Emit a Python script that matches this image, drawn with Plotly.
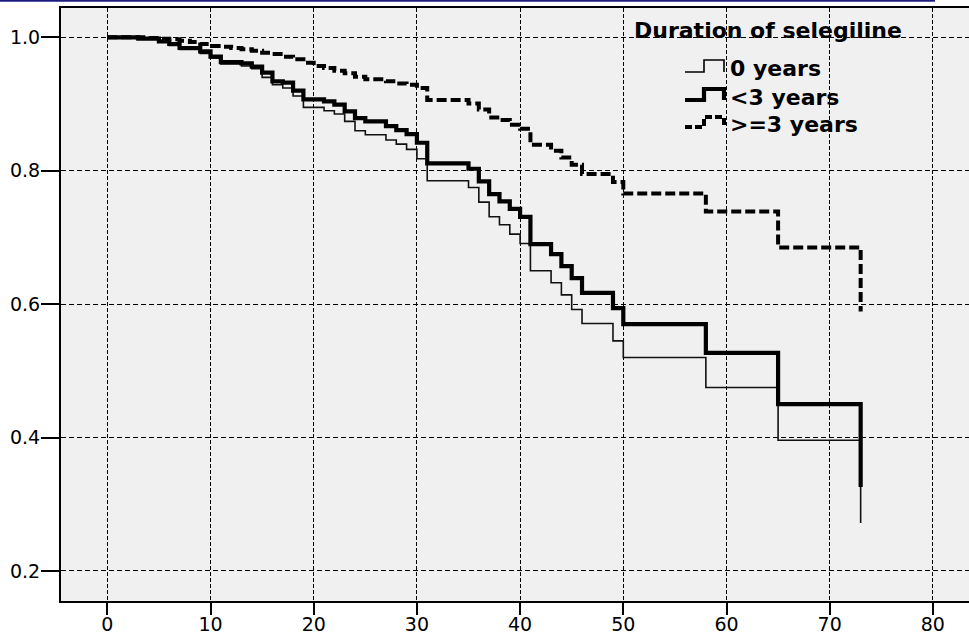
import plotly.graph_objects as go

# ---- data (Kaplan-Meier step curves) ----
t_zero = [0, 3, 5, 6, 7, 9, 10, 11, 13, 14, 15, 16, 17, 18, 19, 21, 22, 23, 24, 25,
          27, 28, 29, 30, 31, 35, 36, 37, 38, 39, 40, 41, 43, 44, 45, 46, 49, 50,
          58, 65, 73]
s_zero = [1.0, 0.998, 0.993, 0.988, 0.982, 0.976, 0.969, 0.960, 0.957, 0.953, 0.940,
          0.929, 0.924, 0.912, 0.895, 0.890, 0.885, 0.874, 0.860, 0.854, 0.846, 0.840,
          0.832, 0.818, 0.785, 0.775, 0.753, 0.731, 0.719, 0.705, 0.691, 0.650, 0.632,
          0.614, 0.592, 0.571, 0.545, 0.520, 0.475, 0.396, 0.272]

t_lt3 = [0, 3, 5, 6, 7, 9, 10, 11, 13, 14, 15, 16, 17, 18, 19, 21, 22, 23, 24, 25,
         27, 28, 29, 30, 31, 35, 36, 37, 38, 39, 40, 41, 43, 44, 45, 46, 49, 50,
         58, 65, 73]
s_lt3 = [1.0, 0.998, 0.994, 0.990, 0.984, 0.979, 0.971, 0.963, 0.961, 0.956, 0.947,
         0.934, 0.932, 0.920, 0.907, 0.904, 0.899, 0.889, 0.879, 0.874, 0.867, 0.861,
         0.855, 0.842, 0.811, 0.803, 0.784, 0.765, 0.754, 0.743, 0.731, 0.690, 0.675,
         0.657, 0.639, 0.617, 0.594, 0.570, 0.527, 0.450, 0.326]

t_ge3 = [0, 4, 5, 6, 7, 8, 9, 10, 11, 12, 13, 14, 15, 16, 17, 18, 19, 20, 21, 22, 23,
         24, 25, 27, 28, 29, 30, 31, 35, 36, 37, 38, 39, 40, 41, 43, 44, 45, 46, 49,
         50, 58, 65, 73]
s_ge3 = [1.0, 0.999, 0.998, 0.997, 0.995, 0.993, 0.990, 0.987, 0.986, 0.984, 0.982,
         0.980, 0.977, 0.975, 0.971, 0.967, 0.962, 0.957, 0.954, 0.950, 0.946, 0.941,
         0.937, 0.934, 0.931, 0.929, 0.924, 0.906, 0.901, 0.892, 0.880, 0.876, 0.869,
         0.863, 0.839, 0.830, 0.820, 0.809, 0.795, 0.783, 0.766, 0.739, 0.685, 0.589]

x_ticks = [0, 10, 20, 30, 40, 50, 60, 70, 80]
y_ticks = [0.2, 0.4, 0.6, 0.8, 1.0]
legend_title = "Duration of selegiline"
legend_labels = ["0 years", "<3 years", ">=3 years"]

# ---- layout geometry (pixels) ----
W, H = 969, 636
L, R, T, B = 61, 969, 8, 601


def px(x):
    return (x - L) / (R - L)


def py(y):
    return (B - y) / (B - T)


fig = go.Figure()
fig.add_trace(go.Scatter(x=t_zero, y=s_zero, mode="lines", line_shape="hv",
                         line=dict(color="#111111", width=1.6), name=legend_labels[0],
                         showlegend=False))
fig.add_trace(go.Scatter(x=t_lt3, y=s_lt3, mode="lines", line_shape="hv",
                         line=dict(color="#000000", width=4.2), name=legend_labels[1],
                         showlegend=False))
fig.add_trace(go.Scatter(x=t_ge3, y=s_ge3, mode="lines", line_shape="hv",
                         line=dict(color="#000000", width=4, dash="10px,4px"),
                         name=legend_labels[2], showlegend=False))

tick_font = dict(family="DejaVu Sans", size=19, color="#000000")

fig.update_xaxes(range=[-4.49, 83.5], tickvals=x_ticks, ticks="outside", ticklen=12,
                 tickwidth=2, tickcolor="#000000", showline=True, linecolor="#000000",
                 linewidth=2, mirror=True, showgrid=True, gridcolor="#000000",
                 gridwidth=1, griddash="4px,2px", zeroline=False, tickfont=tick_font,
                 ticklabelstandoff=-7, automargin=False)
fig.update_yaxes(range=[0.155, 1.044], tickvals=y_ticks, tickformat=".1f",
                 ticks="outside", ticklen=18, tickwidth=2, tickcolor="#000000",
                 showline=True, linecolor="#000000", linewidth=2, mirror=False,
                 showgrid=True, gridcolor="#000000", gridwidth=1, griddash="5px,3px",
                 zeroline=False, tickfont=tick_font, ticklabelstandoff=-3,
                 automargin=False)

# legend (drawn manually, SPSS style)
leg_font = dict(family="DejaVu Sans", size=22, color="#000000")
annotations = [dict(text="<b>%s</b>" % legend_title, x=px(768), y=py(31), xref="paper",
                    yref="paper", xanchor="center", yanchor="middle", showarrow=False,
                    font=leg_font)]
entry_y = [68, 97, 124]
for lab, ey in zip(legend_labels, entry_y):
    annotations.append(dict(text="<b>%s</b>" % lab, x=px(728), y=py(ey), xref="paper",
                            yref="paper", xanchor="left", yanchor="middle",
                            showarrow=False, font=leg_font))

shapes = []
glyphs = [(72, 60, 1.6, "solid"), (100, 89, 4.2, "solid"), (127, 117, 4, "7px,3px")]
for (yb, yt, w, d) in glyphs:
    path = "M %f %f L %f %f L %f %f L %f %f L %f %f" % (
        px(685), py(yb), px(704), py(yb), px(704), py(yt), px(724), py(yt),
        px(724), py(yb))
    shapes.append(dict(type="path", path=path, xref="paper", yref="paper",
                       line=dict(color="#000000", width=w, dash=d)))
# thin navy rule at the very top of the picture
shapes.append(dict(type="line", xref="paper", yref="paper", x0=px(0), x1=px(935),
                   y0=py(0.8), y1=py(0.8), line=dict(color="#1c1c80", width=2)))

fig.update_layout(width=W, height=H, template="none",
                  margin=dict(l=L, r=W - R, t=T, b=H - B, pad=0),
                  plot_bgcolor="#f0f0f0", paper_bgcolor="#ffffff",
                  showlegend=False, annotations=annotations, shapes=shapes)

fig.write_html("out.html")
